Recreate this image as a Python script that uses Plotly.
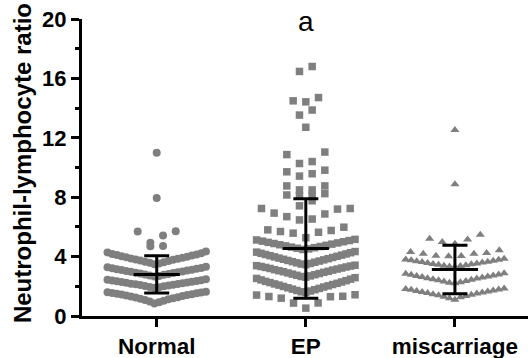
import numpy as np
import plotly.graph_objects as go

# ---------------- data ----------------
CATEGORIES = ["Normal", "EP", "miscarriage"]

NORMAL_NLR = [
    0.85, 0.93, 0.98, 1.02, 1.08, 1.12, 1.16, 1.20, 1.24, 1.27, 1.31, 1.35, 1.38, 1.41, 1.44, 1.47,
    1.50, 1.53, 1.55, 1.58, 1.60, 1.63,
    1.90, 1.93, 1.96, 2.00, 2.02, 2.05, 2.08, 2.10, 2.13, 2.16, 2.18, 2.21, 2.24, 2.26, 2.29, 2.31,
    2.34, 2.36, 2.39, 2.41, 2.44, 2.47,
    2.66, 2.70, 2.73, 2.77, 2.80, 2.83, 2.86, 2.89, 2.92, 2.95, 2.98, 3.00, 3.03, 3.06, 3.09, 3.12,
    3.15, 3.18, 3.21, 3.24, 3.28, 3.32,
    3.48, 3.53, 3.58, 3.62, 3.66, 3.70, 3.74, 3.78, 3.81, 3.85, 3.88, 3.92, 3.95, 3.99, 4.03, 4.07,
    4.10, 4.14, 4.18, 4.23, 4.28, 4.35,
    4.70, 4.72,
    4.93, 5.42, 5.69, 5.70,
    7.95,
    11.0,
]

EP_NLR = [
    0.53, 0.87, 0.88, 1.20, 1.30, 1.31, 1.33, 1.41, 1.43,
    1.58, 1.63, 1.68, 1.72, 1.77, 1.81, 1.86, 1.90, 1.95, 1.99, 2.03, 2.08, 2.12, 2.16, 2.20, 2.25,
    2.29, 2.33, 2.38, 2.43, 2.48, 2.53, 2.58,
    2.62, 2.66, 2.70, 2.74, 2.78, 2.82, 2.86, 2.90, 2.94, 2.98, 3.01, 3.05, 3.09, 3.12, 3.16, 3.20,
    3.23, 3.27, 3.30, 3.33, 3.36, 3.39, 3.42,
    3.46, 3.50, 3.54, 3.58, 3.62, 3.66, 3.70, 3.74, 3.78, 3.82, 3.86, 3.90, 3.94, 3.98, 4.02, 4.06,
    4.10, 4.14, 4.18, 4.22, 4.26, 4.30, 4.34,
    4.48, 4.52, 4.56, 4.60, 4.64, 4.68, 4.72, 4.76, 4.80, 4.84, 4.88, 4.92, 4.96, 5.00, 5.04, 5.08,
    5.12, 5.16,
    5.27, 5.58, 5.64, 5.69, 5.76, 5.80, 5.98,
    6.47, 6.53, 6.69, 6.87, 6.93, 7.20, 7.24, 7.24,
    7.42, 7.76,
    8.09, 8.13, 8.15, 8.24,
    8.49, 8.49, 8.76, 8.76,
    9.42, 9.58, 9.71, 9.82,
    10.27, 10.40, 10.87, 11.04,
    12.71,
    13.53, 13.87,
    14.42, 14.49, 14.71,
    16.47, 16.80,
]

MISC_NLR = [
    1.09, 1.20, 1.26, 1.30, 1.35, 1.39, 1.43, 1.47, 1.51, 1.55, 1.58, 1.62, 1.65, 1.69, 1.72, 1.76,
    1.79, 1.82, 1.86,
    2.20, 2.24, 2.28, 2.32, 2.36, 2.40, 2.44, 2.48, 2.52, 2.55, 2.59, 2.62, 2.66, 2.70, 2.73, 2.77,
    2.80, 2.84, 2.88,
    3.30, 3.33, 3.36, 3.39, 3.42, 3.45, 3.48, 3.51, 3.54, 3.57, 3.60, 3.63, 3.66, 3.69, 3.72, 3.75,
    3.78, 3.81, 3.85,
    4.02, 4.04, 4.05, 4.20, 4.20, 4.24, 4.31, 4.42,
    4.87, 4.98, 5.15, 5.20, 5.47,
    8.87,
    12.53,
]

GROUP_MEANS = [2.80, 4.55, 3.13]
GROUP_SDS = [1.25, 3.35, 1.63]

Y_TICKS = [0, 4, 8, 12, 16, 20]
Y_TITLE = "Neutrophil-lymphocyte ratio"
SIG_LABEL = "a"

# ---------------- layout / style parameters ----------------
ROW_BREAKS = {
    "Normal": [1.75, 2.55, 3.40, 4.50, 4.85, 6.0, 9.0],
    "EP": [1.50, 2.60, 3.44, 4.40, 5.20, 6.20, 7.30, 7.95, 8.35, 9.0, 10.0, 12.0, 13.2, 14.2, 16.0],
    "miscarriage": [2.0, 3.10, 3.95, 4.60, 6.0, 10.0],
}
SYMBOLS = {"Normal": "circle", "EP": "square", "miscarriage": "triangle-up"}
SIZES = {"Normal": 8, "EP": 7.5, "miscarriage": 8}
POINT_COLOR = "#7f7f7f"
FULL_STEP = 0.085      # spacing of sparse points, in category units
MAX_HALF = 0.33        # maximal half-width of a row, in category units
FONT = "Liberation Sans, Arial, sans-serif"


def swarm_offsets(values, breaks):
    vals = np.asarray(values, dtype=float)
    rows = np.digitize(vals, breaks)
    offs = np.zeros(len(vals))
    for r in np.unique(rows):
        members = np.where(rows == r)[0]
        members = members[np.argsort(vals[members], kind="stable")]
        n = len(members)
        if n == 1:
            continue
        step = min(FULL_STEP, 2 * MAX_HALF / (n - 1))
        slots = [(k - (n - 1) / 2) * step for k in range(n)]
        slots.sort(key=lambda s: (round(abs(s), 9), s))
        for m, s in zip(members, slots):
            offs[m] = s
    return offs


fig = go.Figure()
for i, (cat, vals) in enumerate(zip(CATEGORIES, [NORMAL_NLR, EP_NLR, MISC_NLR])):
    offs = swarm_offsets(vals, ROW_BREAKS[cat])
    fig.add_trace(go.Scatter(
        x=i + offs, y=vals, mode="markers",
        marker=dict(symbol=SYMBOLS[cat], size=SIZES[cat], color=POINT_COLOR, line=dict(width=0)),
        cliponaxis=False, hoverinfo="skip",
    ))

fig.add_trace(go.Scatter(
    x=list(range(len(CATEGORIES))), y=GROUP_MEANS, mode="markers",
    marker=dict(symbol="line-ew", size=33, color="black", line=dict(width=3, color="black")),
    error_y=dict(type="data", array=GROUP_SDS, symmetric=True, thickness=3, width=12.5, color="black"),
    cliponaxis=False, hoverinfo="skip",
))

fig.update_xaxes(
    range=[-0.501, 2.49], tickmode="array", tickvals=list(range(len(CATEGORIES))), ticktext=CATEGORIES,
    showline=True, linewidth=3, linecolor="black", ticks="outside", ticklen=8, tickwidth=3,
    tickcolor="black", showgrid=False, zeroline=False,
    tickfont=dict(family=FONT, size=22.5, color="black", weight="bold"),
)
fig.update_yaxes(
    range=[0, 20], tickmode="array", tickvals=Y_TICKS,
    showline=True, linewidth=3, linecolor="black", ticks="outside", ticklen=8, tickwidth=3,
    tickcolor="black", showgrid=False, zeroline=False,
    tickfont=dict(family=FONT, size=22, color="black", weight="bold"),
    minor=dict(dtick=2, tick0=0, ticks="outside", ticklen=4, tickwidth=3, tickcolor="black", showgrid=False),
)

fig.add_annotation(
    text=Y_TITLE, textangle=-90, xref="paper", yref="paper", x=-0.1345, y=0.515,
    xanchor="center", yanchor="middle", showarrow=False,
    font=dict(family=FONT, size=24, color="black", weight="bold"),
)
fig.add_annotation(
    text=SIG_LABEL, xref="x", yref="paper", x=1, y=0.99, xanchor="center", yanchor="middle",
    showarrow=False, font=dict(family=FONT, size=28, color="black"),
)

fig.update_layout(
    width=528, height=358, margin=dict(l=82, r=0, t=19, b=42),
    plot_bgcolor="white", paper_bgcolor="white", showlegend=False,
)

fig.write_html("out.html", config={"displayModeBar": False},
               post_script="document.body.style.margin='0';")
